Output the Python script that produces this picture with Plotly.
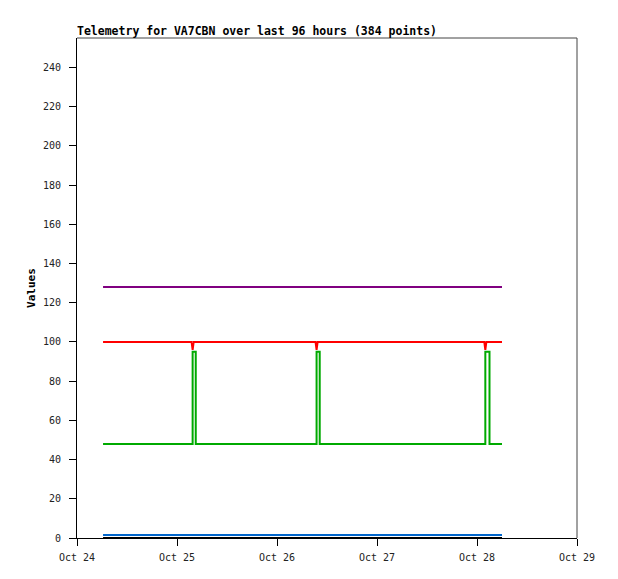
import plotly.graph_objects as go

# telemetry channels, values (change points only)
purple_t = ["2024-10-24 06:15", "2024-10-28 06:00"]
purple_v = [128, 128]

red_t = ["2024-10-24 06:15",
         "2024-10-25 03:30", "2024-10-25 03:45", "2024-10-25 04:00",
         "2024-10-26 09:15", "2024-10-26 09:30", "2024-10-26 09:45",
         "2024-10-28 01:45", "2024-10-28 02:00", "2024-10-28 02:15",
         "2024-10-28 06:00"]
red_v = [100, 100, 96, 100, 100, 96, 100, 100, 96, 100, 100]

green_t = ["2024-10-24 06:15",
           "2024-10-25 03:45", "2024-10-25 04:30",
           "2024-10-26 09:30", "2024-10-26 10:15",
           "2024-10-28 02:00", "2024-10-28 03:00",
           "2024-10-28 06:00"]
green_v = [48, 95, 48, 95, 48, 95, 48, 48]

blue_t = ["2024-10-24 06:15", "2024-10-28 06:00"]
blue_v = [1.5, 1.5]

black_t = ["2024-10-24 06:15", "2024-10-28 06:00"]
black_v = [0, 0]

y_ticks = [0, 20, 40, 60, 80, 100, 120, 140, 160, 180, 200, 220, 240]
x_ticks = ["2024-10-24", "2024-10-25", "2024-10-26", "2024-10-27", "2024-10-28", "2024-10-29"]
x_labels = ["Oct 24", "Oct 25", "Oct 26", "Oct 27", "Oct 28", "Oct 29"]

MONO = "DejaVu Sans Mono"

fig = go.Figure()
fig.add_trace(go.Scatter(x=black_t, y=black_v, mode="lines", line=dict(color="#000000", width=2)))
fig.add_trace(go.Scatter(x=blue_t, y=blue_v, mode="lines", line=dict(color="#0066cc", width=2)))
fig.add_trace(go.Scatter(x=green_t, y=green_v, mode="lines", line=dict(color="#00aa00", width=2, shape="hv")))
fig.add_trace(go.Scatter(x=red_t, y=red_v, mode="lines", line=dict(color="#ff0000", width=2)))
fig.add_trace(go.Scatter(x=purple_t, y=purple_v, mode="lines", line=dict(color="#800080", width=2)))

# the page body adds an 8px offset, so the figure is sized to fit the window
W, H = 602, 563
fig.update_layout(
    width=W, height=H,
    margin=dict(l=69, r=33, t=30, b=33),
    paper_bgcolor="white", plot_bgcolor="white",
    showlegend=False,
    font=dict(family=MONO, size=10, color="#000000"),
    title=dict(text="<b>Telemetry for VA7CBN over last 96 hours (384 points)</b>",
               x=69 / W, xanchor="left", y=1 - 27 / H, yanchor="bottom",
               font=dict(family=MONO, size=11.5, color="#000000")),
)
fig.update_xaxes(
    type="date", range=["2024-10-24", "2024-10-29"],
    tickvals=x_ticks, ticktext=x_labels,
    showgrid=False, zeroline=False, automargin=False,
    showline=True, linecolor="#000000", linewidth=1,
    ticks="outside", ticklen=7, tickcolor="#000000",
    ticklabelstandoff=3,
    tickfont=dict(family=MONO, size=10, color="#222222"),
)
fig.update_yaxes(
    range=[0, 255], tickvals=y_ticks,
    showgrid=False, zeroline=False, automargin=False,
    showline=True, linecolor="#000000", linewidth=1,
    ticks="outside", ticklen=7, tickcolor="#000000",
    ticklabelstandoff=6,
    tickfont=dict(family=MONO, size=10, color="#222222"),
    title=dict(text="<b>Values</b>", font=dict(family=MONO, size=11), standoff=5),
)
# gray frame on top/right
fig.add_shape(type="line", xref="paper", yref="paper", x0=0, x1=1, y0=1, y1=1,
              line=dict(color="#444444", width=1))
fig.add_shape(type="line", xref="paper", yref="paper", x0=1, x1=1, y0=0, y1=1,
              line=dict(color="#444444", width=1))

fig.write_html("out.html")
